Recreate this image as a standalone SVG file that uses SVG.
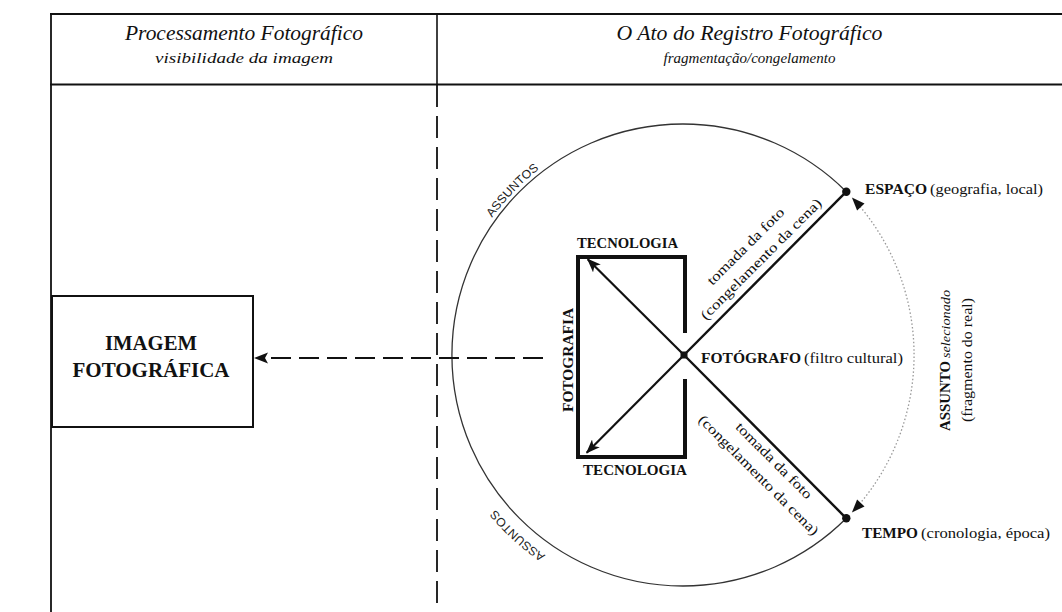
<svg xmlns="http://www.w3.org/2000/svg" width="1062" height="612" viewBox="0 0 1062 612">
<style>
.serif{font-family:"Liberation Serif","Times New Roman",serif;fill:#111}
.hd{font-style:italic;font-size:20px}
.hd2{font-style:italic;font-size:15px}
.b{font-weight:bold}
.lbl{font-size:15px}
.sans{font-family:"Liberation Sans",Arial,sans-serif;font-size:12px;fill:#222}
.frame{stroke:#111;fill:none}
</style>
<defs>
<marker id="ah" markerWidth="14" markerHeight="11" refX="13" refY="5.5" orient="auto" markerUnits="userSpaceOnUse">
<path d="M0,0 L14,5.5 L0,11 L3.5,5.5 z" fill="#111"/>
</marker>
<path id="arcTop" d="M 475.5 244.7 A 235 235 0 0 1 565.5 151.5" fill="none"/>
<path id="arcBot" d="M 580.3 575.2 A 243 243 0 0 1 472.6 476.5" fill="none"/>
</defs>
<rect width="1062" height="612" fill="#fff"/>

<g id="table">
<line class="frame" x1="50" y1="14" x2="1062" y2="14" stroke-width="2.2"/>
<line class="frame" x1="50" y1="84.5" x2="1062" y2="84.5" stroke-width="2.2"/>
<line class="frame" x1="51" y1="13" x2="51" y2="612" stroke-width="1.8"/>
<line class="frame" x1="437" y1="13" x2="437" y2="85" stroke-width="1.6"/>
<line class="frame" x1="437" y1="85" x2="437" y2="612" stroke-width="1.8" stroke-dasharray="22 9"/>
<text class="serif hd" x="244" y="40" text-anchor="middle" textLength="238" lengthAdjust="spacingAndGlyphs">Processamento Fotográfico</text>
<text class="serif hd2" x="244" y="63" text-anchor="middle" textLength="178" lengthAdjust="spacingAndGlyphs">visibilidade da imagem</text>
<text class="serif hd" x="749.5" y="40" text-anchor="middle" textLength="266" lengthAdjust="spacingAndGlyphs">O Ato do Registro Fotográfico</text>
<text class="serif hd2" x="749.5" y="63" text-anchor="middle" textLength="172" lengthAdjust="spacingAndGlyphs">fragmentação/congelamento</text>
</g>

<g id="imagem">
<rect x="52" y="296" width="201" height="131" fill="none" stroke="#111" stroke-width="2"/>
<text class="serif b" x="151" y="350" font-size="20" text-anchor="middle" textLength="92" lengthAdjust="spacingAndGlyphs">IMAGEM</text>
<text class="serif b" x="151" y="377" font-size="20" text-anchor="middle" textLength="157" lengthAdjust="spacingAndGlyphs">FOTOGRÁFICA</text>
</g>

<g id="circulo">
<path d="M 846.3 191.7 A 231 231 0 1 0 846.3 518.3" fill="none" stroke="#333" stroke-width="1.3"/>
<path d="M 860 206.5 A 231 231 0 0 1 860 503.5" fill="none" stroke="#999" stroke-width="1.3" stroke-dasharray="1.5 2.2"/>
<text class="sans"><textPath href="#arcTop" startOffset="50%" text-anchor="middle" textLength="68" lengthAdjust="spacingAndGlyphs">ASSUNTOS</textPath></text>
<text class="sans"><textPath href="#arcBot" startOffset="50%" text-anchor="middle" textLength="68" lengthAdjust="spacingAndGlyphs">ASSUNTOS</textPath></text>
</g>

<g id="tecnologia">
<path d="M 685 333 L 685 257 L 578 257 L 578 457 L 685 457 L 685 379" fill="none" stroke="#111" stroke-width="4"/>
<text class="serif b" x="627.5" y="248" font-size="14" text-anchor="middle" textLength="101" lengthAdjust="spacingAndGlyphs">TECNOLOGIA</text>
<text class="serif b" x="635" y="475" font-size="14" text-anchor="middle" textLength="104" lengthAdjust="spacingAndGlyphs">TECNOLOGIA</text>
<text class="serif b" x="573" y="360" font-size="14" text-anchor="middle" transform="rotate(-90 573 360)" textLength="104" lengthAdjust="spacingAndGlyphs">FOTOGRAFIA</text>
</g>

<g id="conectores">
<line x1="684" y1="355" x2="587.7" y2="259.3" stroke="#111" stroke-width="2.2" marker-end="url(#ah)"/>
<line x1="684" y1="355" x2="586.7" y2="452.7" stroke="#111" stroke-width="2.2" marker-end="url(#ah)"/>
<line x1="684" y1="355" x2="846.3" y2="191.7" stroke="#111" stroke-width="2.4"/>
<line x1="684" y1="355" x2="846.3" y2="518.3" stroke="#111" stroke-width="2.4"/>
<line x1="543" y1="358" x2="262" y2="358" stroke="#111" stroke-width="2" stroke-dasharray="20 8"/>
<polygon points="254,358 268,352.5 265,358 268,363.5" fill="#111"/>
<polygon points="851.9,197.5 864.5,203.6 860.8,207 857.1,210.4" fill="#111"/>
<polygon points="851.9,512.5 864.5,506.4 860.8,503 857.1,499.6" fill="#111"/>
</g>

<g id="fotografo">
<rect x="680.5" y="351.5" width="7" height="7" fill="#111"/>
<text class="serif b lbl" x="701" y="363" textLength="100" lengthAdjust="spacingAndGlyphs">FOTÓGRAFO</text>
<text class="serif lbl" x="804" y="363" textLength="99" lengthAdjust="spacingAndGlyphs">(filtro cultural)</text>
</g>

<g id="espaco">
<circle cx="846.3" cy="191.7" r="4.2" fill="#111"/>
<text class="serif b lbl" x="865" y="194" textLength="62" lengthAdjust="spacingAndGlyphs">ESPAÇO</text>
<text class="serif lbl" x="930" y="194" textLength="113" lengthAdjust="spacingAndGlyphs">(geografia, local)</text>
</g>

<g id="tempo">
<circle cx="846.3" cy="518.3" r="4.2" fill="#111"/>
<text class="serif b lbl" x="862" y="538" textLength="56" lengthAdjust="spacingAndGlyphs">TEMPO</text>
<text class="serif lbl" x="921" y="538" textLength="129" lengthAdjust="spacingAndGlyphs">(cronologia, época)</text>
</g>

<g id="tomadas" class="serif" font-size="14">
<text x="748.8" y="249.6" text-anchor="middle" transform="rotate(-45 748.8 249.6)" textLength="103" lengthAdjust="spacingAndGlyphs">tomada da foto</text>
<text x="764.3" y="262.3" text-anchor="middle" transform="rotate(-45 764.3 262.3)" textLength="165" lengthAdjust="spacingAndGlyphs">(congelamento da cena)</text>
<text x="770.7" y="463.9" text-anchor="middle" transform="rotate(45 770.7 463.9)" textLength="102" lengthAdjust="spacingAndGlyphs">tomada da foto</text>
<text x="755.4" y="478.4" text-anchor="middle" transform="rotate(45 755.4 478.4)" textLength="164" lengthAdjust="spacingAndGlyphs">(congelamento da cena)</text>
</g>

<g id="assunto">
<text class="serif b" x="950" y="431" font-size="15" transform="rotate(-90 950 431)" textLength="70" lengthAdjust="spacingAndGlyphs">ASSUNTO</text>
<text class="serif" x="950" y="358" font-size="13" font-style="italic" transform="rotate(-90 950 358)" textLength="68" lengthAdjust="spacingAndGlyphs">selecionado</text>
<text class="serif" x="972" y="360" font-size="14" text-anchor="middle" transform="rotate(-90 972 360)" textLength="124" lengthAdjust="spacingAndGlyphs">(fragmento do real)</text>
</g>
</svg>
